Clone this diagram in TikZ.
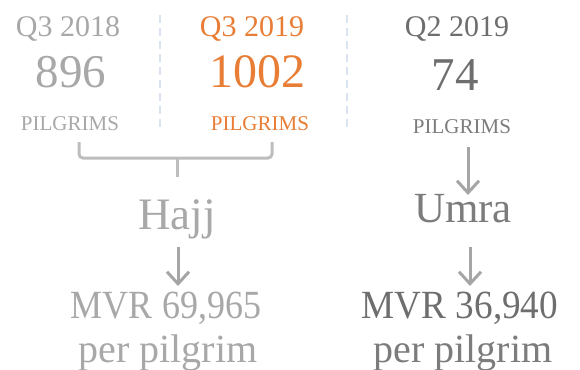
\documentclass[tikz,border=0pt]{standalone}
\usepackage{fontspec}
\usepackage{graphicx}
\setmainfont{Liberation Serif}
\usetikzlibrary{arrows.meta}
\definecolor{lgrey}{HTML}{A8A8A8}
\definecolor{dgrey}{HTML}{6E6E6E}
\definecolor{mgrey}{HTML}{7C7C7C}
\definecolor{orng}{HTML}{E87D35}
\definecolor{arrgrey}{HTML}{A5A5A5}
\definecolor{brgrey}{HTML}{BDBDBD}
\definecolor{dashblue}{HTML}{DAE3F2}
\newcommand{\fs}[1]{\fontsize{#1}{#1}\selectfont}
\begin{document}
\begin{tikzpicture}[x=1pt,y=-1pt,
  txt/.style={inner sep=0pt,anchor=base},
  arr/.style={draw=arrgrey,line width=3pt,-{Straight Barb[length=12pt,width=22pt,line width=3pt]}},
  sep/.style={draw=dashblue,line width=1.5pt,dash pattern=on 8pt off 5pt},
  brk/.style={draw=brgrey,line width=3pt,rounded corners=4pt}]
\useasboundingbox (0,0) rectangle (580,369);
% column 1
\node[txt,text=lgrey] (q18) at (68,37) {\fs{30}Q3 2018};
\node[txt,text=lgrey] (n18) at (71,87) {\fs{47}896};
\node[txt,text=lgrey] (p18) at (70,130) {\fs{21}PILGRIMS};
% column 2
\node[txt,text=orng] (q19) at (252,37) {\fs{30}Q3 2019};
\node[txt,text=orng] (n19) at (257,87) {\fs{48}1002};
\node[txt,text=orng] (p19) at (260,130) {\fs{21}PILGRIMS};
% column 3
\node[txt,text=dgrey] (q219) at (457,37) {\fs{30}Q2 2019};
\node[txt,text=dgrey] (n219) at (455,90) {\fs{47}74};
\node[txt,text=mgrey] (p219) at (462,133) {\fs{21}PILGRIMS};
% separators
\coordinate (s1a) at (160,15); \coordinate (s1b) at (160,128);
\coordinate (s2a) at (347,15); \coordinate (s2b) at (347,128);
\draw[sep] (s1a) -- (s1b);
\draw[sep] (s2a) -- (s2b);
% bracket
\coordinate (bl) at (79,142); \coordinate (br) at (272,142);
\coordinate (bm) at (177,158); \coordinate (bt) at (177,177);
\draw[brk] (bl) -- (79,158) -- (272,158) -- (br);
\draw[brk] (bm) -- (bt);
% lower texts
\node[txt,text=lgrey] (hajj) at (177,229) {\fs{45}Hajj};
\node[txt,text=mgrey] (umra) at (463,222) {\fs{43}Umra};
\node[txt,text=lgrey] (mvr1) at (166,318) {\scalebox{0.9}[1]{\fs{40}MVR 69,965}};
\node[txt,text=lgrey] (pp1) at (168,362) {\fs{40}per pilgrim};
\node[txt,text=dgrey] (mvr2) at (460,318) {\scalebox{0.93}[1]{\fs{40}MVR 36,940}};
\node[txt,text=mgrey] (pp2) at (463,362) {\fs{40}per pilgrim};
% arrows
\coordinate (a1s) at (178,247); \coordinate (a1e) at (178,286);
\coordinate (a2s) at (468,147); \coordinate (a2e) at (468,195);
\coordinate (a3s) at (470,247); \coordinate (a3e) at (470,286);
\draw[arr] (a1s) -- (a1e);
\draw[arr] (a2s) -- (a2e);
\draw[arr] (a3s) -- (a3e);
\end{tikzpicture}
\end{document}
